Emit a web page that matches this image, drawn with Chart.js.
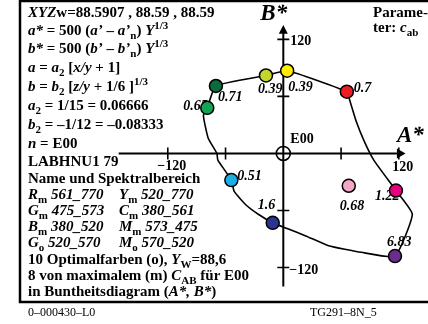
<!DOCTYPE html>
<html>
<head>
<meta charset="utf-8">
<script src="https://cdn.jsdelivr.net/npm/chart.js@4.4.1/dist/chart.umd.min.js"></script>
<style>
  html, body { margin: 0; padding: 0; background: #fff; }
  canvas { display: block; }
</style>
</head>
<body>
<canvas id="chart" width="428" height="324"></canvas>
<script>
// colour points (A*, B*) and their c_ab labels
const pointA = [4, -18, -70, -79, 66, 117, 68, 116, -11, -54];
const pointB = [87, 82, 71, 48, 65, -39, -34, -108, -73, -28];
const pointLabels = ['0.39', '0.39', '0.71', '0.65', '0.7', '1.22', '0.68', '6.83', '1.6', '0.51'];
const pointColors = ['#ffec00', '#c5d62c', '#0b6b3a', '#13a352', '#ec1c24', '#e6007e',
                     '#f3a6c8', '#6b2c8f', '#2b3590', '#1eaee6'];

// outline curve through the maximal colours
const curveA = [-79, -83, -78, -69, -68, -54, -51, -39, -26, -11, 4, 24, 47, 81, 116, 134, 117, 94, 84, 76, 69, 66, 4, -18, -70, -79];
const curveB = [48, 40, 16, 0, -7, -28, -40, -54, -64, -73, -79, -87, -97, -104, -108, -64, -39, -7, 13, 33, 56, 65, 87, 82, 71, 48];

// axis ticks
const tickValues = [-120, -60, 60, 120];
const tickLabels = { '-120': '\u2212120', '120': '120' };

// label offsets (px) from each point: [dx, dy]
const labelOffsets = [[1, 20], [-8, 18], [2, 15], [-24, 2], [7, 0], [-21, 9], [-9, 24], [-8, -10], [-15, -14], [6, 0]];

const SERIF = '"Liberation Serif", "DejaVu Serif", serif';

function setFont(ctx, style, size) {
    let f = 'bold ';
    if (style.indexOf('i') >= 0) f = 'italic bold ';
    if (style.indexOf('r') >= 0) f = '';
    ctx.font = f + size + 'px ' + SERIF;
}

// parts: [text, style]; style: b bold, i bold italic, s = subscript, p = superscript
function drawRich(ctx, x, y, parts, size) {
    size = size || 15;
    parts.forEach(([txt, style]) => {
        let sz = size, dy = 0;
        if (style.indexOf('s') >= 0) { sz = size - 4; dy = 4; }
        if (style.indexOf('p') >= 0) { sz = size - 4; dy = -6; }
        setFont(ctx, style, sz);
        ctx.fillText(txt, x, y + dy);
        x += ctx.measureText(txt).width;
    });
}

const textLines = [
    [17, [['XYZ', 'i'], ['w', 'b'], ['=88.5907 , 88.59 , 88.59', 'b']]],
    [35, [['a*', 'i'], [' = 500 (', 'b'], ['a\u2019', 'i'], [' \u2013 ', 'b'], ['a\u2019', 'i'], ['n', 'bs'], [') ', 'b'], ['Y', 'i'], ['1/3', 'bp']]],
    [53, [['b*', 'i'], [' = 500 (', 'b'], ['b\u2019', 'i'], [' \u2013 ', 'b'], ['b\u2019', 'i'], ['n', 'bs'], [') ', 'b'], ['Y', 'i'], ['1/3', 'bp']]],
    [72, [['a', 'i'], [' = ', 'b'], ['a', 'i'], ['2', 'bs'], [' [', 'b'], ['x/y', 'i'], [' + 1]', 'b']]],
    [91, [['b', 'i'], [' = ', 'b'], ['b', 'i'], ['2', 'bs'], [' [', 'b'], ['z/y', 'i'], [' + 1/6 ]', 'b'], ['1/3', 'bp']]],
    [110, [['a', 'i'], ['2', 'bs'], [' = 1/15 = 0.06666', 'b']]],
    [129, [['b', 'i'], ['2', 'bs'], [' = \u20131/12 = \u20130.08333', 'b']]],
    [148, [['n', 'i'], [' = E00', 'b']]],
    [166, [['LABHNU1 79', 'b']]],
    [183, [['Name und Spektralbereich', 'b']]],
    [264, [['10 Optimalfarben (o), ', 'b'], ['Y', 'i'], ['W', 'bs'], ['=88,6', 'b']]],
    [280, [['8 von maximalem (m) ', 'b'], ['C', 'i'], ['AB', 'bs'], [' f\u00fcr E00', 'b']]],
    [296, [['in Buntheitsdiagram (', 'b'], ['A*, B*', 'i'], [')', 'b']]]
];

const rangeLines = [
    [199, ['R', 'm', '561_770'], ['Y', 'm', '520_770']],
    [215, ['G', 'm', '475_573'], ['C', 'm', '380_561']],
    [231, ['B', 'm', '380_520'], ['M', 'm', '573_475']],
    [247, ['G', 'o', '520_570'], ['M', 'o', '570_520']]
];

const decor = {
    id: 'decor',
    beforeDatasetsDraw(chart) {
        const ctx = chart.ctx;
        const xs = chart.scales.x, ys = chart.scales.y;
        const X = v => xs.getPixelForValue(v);
        const Y = v => ys.getPixelForValue(v);
        ctx.save();
        ctx.fillStyle = '#000';
        ctx.strokeStyle = '#000';
        ctx.textBaseline = 'alphabetic';

        // frame
        ctx.lineWidth = 2.5;
        ctx.strokeRect(20, 1, 430, 301);

        // left text block
        ctx.textAlign = 'left';
        textLines.forEach(([y, parts]) => drawRich(ctx, 28, y, parts));
        rangeLines.forEach(([y, c1, c2]) => {
            drawRich(ctx, 28, y, [[c1[0], 'i'], [c1[1], 'bs'], [' ' + c1[2], 'i']]);
            drawRich(ctx, 119, y, [[c2[0], 'i'], [c2[1], 'bs'], [' ' + c2[2], 'i']]);
        });
        drawRich(ctx, 373, 17, [['Parame-', 'b']]);
        drawRich(ctx, 373, 32, [['ter: ', 'b'], ['c', 'i'], ['ab', 'bs']]);

        // footer
        setFont(ctx, 'r', 12);
        ctx.fillText('0\u2013000430\u2013L0', 28, 316);
        ctx.fillText('TG291\u20138N_5', 310, 316);

        // axes
        const ox = X(0), oy = Y(0);
        ctx.lineWidth = 2;
        ctx.beginPath();
        ctx.moveTo(X(-171), oy); ctx.lineTo(X(119), oy);
        ctx.moveTo(ox, Y(-140)); ctx.lineTo(ox, Y(128));
        ctx.stroke();
        // arrow heads
        ctx.beginPath();
        ctx.moveTo(X(127), oy); ctx.lineTo(X(118), oy - 5); ctx.lineTo(X(118), oy + 5); ctx.closePath();
        ctx.moveTo(ox, Y(135)); ctx.lineTo(ox - 4.5, Y(126)); ctx.lineTo(ox + 4.5, Y(126)); ctx.closePath();
        ctx.fill();
        // ticks
        ctx.lineWidth = 1.6;
        ctx.beginPath();
        tickValues.forEach(v => {
            ctx.moveTo(X(v), oy - 6); ctx.lineTo(X(v), oy + 6);
            ctx.moveTo(ox - 6, Y(v)); ctx.lineTo(ox + 6, Y(v));
        });
        ctx.stroke();
        // origin circle
        ctx.lineWidth = 1.6;
        ctx.beginPath();
        ctx.arc(ox, oy, 7, 0, Math.PI * 2);
        ctx.stroke();

        // tick labels
        setFont(ctx, 'b', 14);
        ctx.textAlign = 'left';
        ctx.fillText(tickLabels['120'], ox + 7, Y(120) + 6);
        ctx.fillText(tickLabels['-120'], ox + 6, Y(-120) + 6);
        ctx.textAlign = 'center';
        ctx.fillText(tickLabels['-120'], X(-120) + 4, oy + 17);
        ctx.fillText(tickLabels['120'], X(124), oy + 18);
        ctx.textAlign = 'left';
        ctx.fillText('E00', ox + 7, oy - 10);

        // axis names
        setFont(ctx, 'i', 23);
        ctx.fillText('B*', ox - 23, 20);
        ctx.fillText('A*', X(118), oy - 11);

        // point labels (drawn under the curve and points)
        setFont(ctx, 'i', 14);
        pointLabels.forEach((t, i) => {
            const [dx, dy] = labelOffsets[i];
            ctx.fillText(t, X(pointA[i]) + dx, Y(pointB[i]) + dy);
        });
        ctx.restore();
    }
};

new Chart(document.getElementById('chart'), {
    type: 'scatter',
    data: {
        datasets: [{
            label: 'Optimalfarben',
            data: pointA.map((a, i) => ({ x: a, y: pointB[i] })),
            pointRadius: 6.5,
            pointBackgroundColor: pointColors,
            pointBorderColor: '#000',
            pointBorderWidth: 1.5,
            order: 1,
        }, {
            label: 'Grenze',
            data: curveA.map((a, i) => ({ x: a, y: curveB[i] })),
            showLine: true,
            borderColor: '#000',
            borderWidth: 1.6,
            pointRadius: 0,
            tension: 0.15,
            order: 2,
        }],
    },
    options: {
        responsive: false,
        animation: false,
        layout: { padding: 0 },
        plugins: { legend: { display: false }, tooltip: { enabled: false } },
        scales: {
            x: { type: 'linear', min: -286, max: 142, display: false },
            y: { type: 'linear', min: -171, max: 153, display: false },
        },
    },
    plugins: [decor],
});
</script>
</body>
</html>
